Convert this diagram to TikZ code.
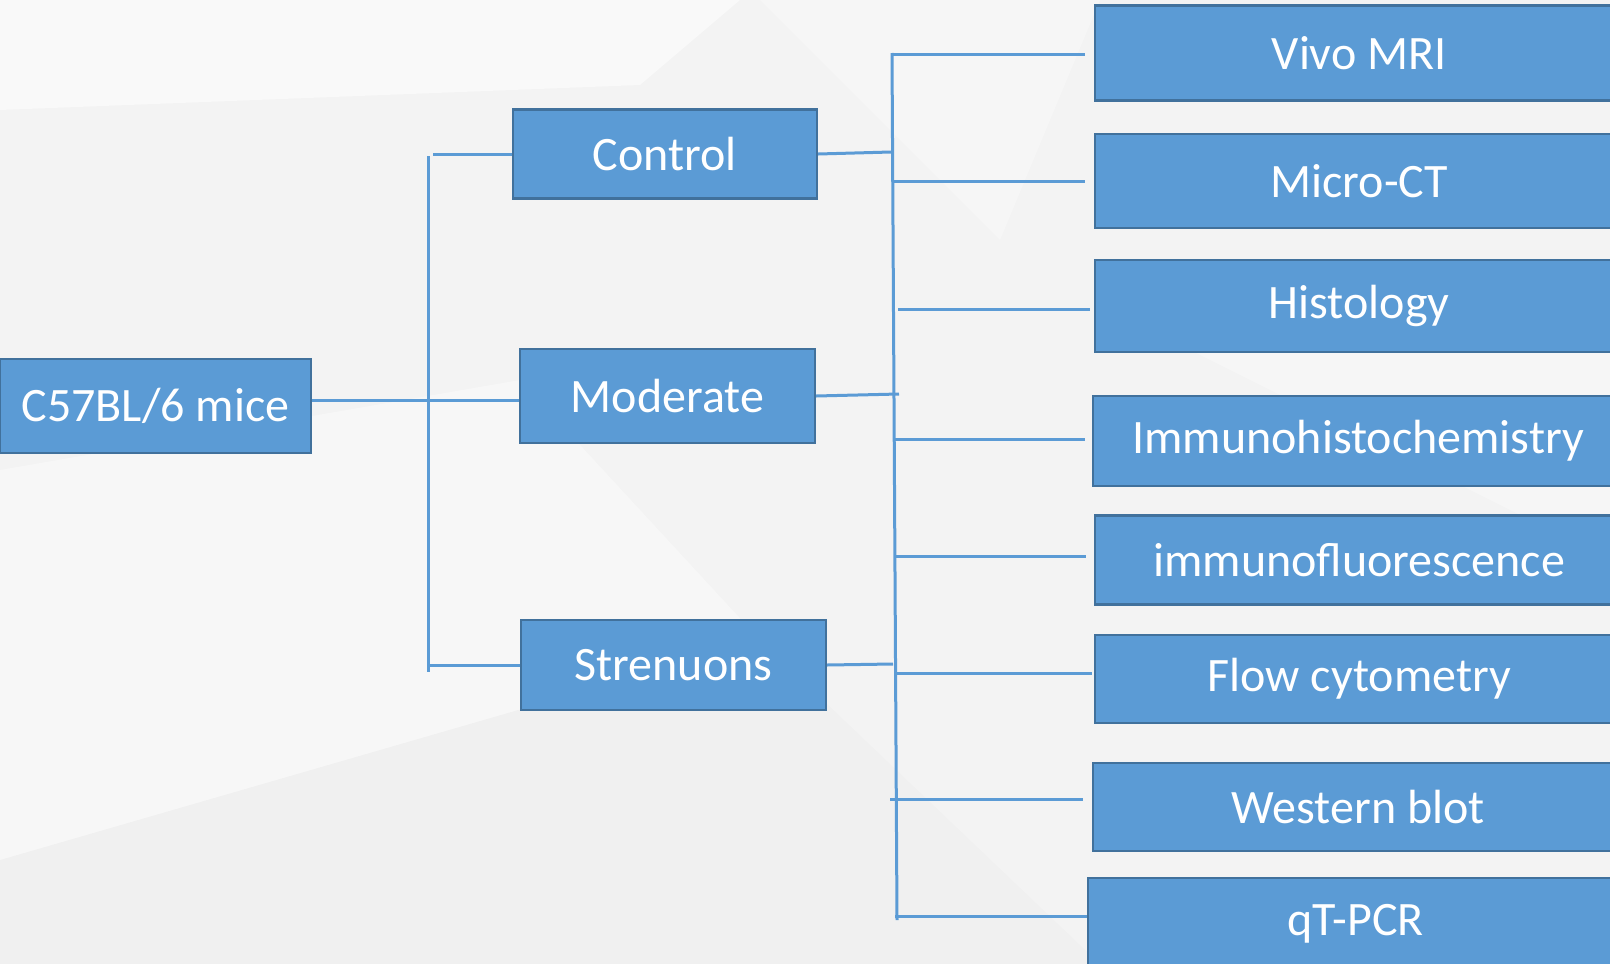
\documentclass[tikz,border=0pt]{standalone}
\usepackage{fontspec}
\setmainfont{Carlito}
\usepackage{xcolor}
\usetikzlibrary{calc}
\definecolor{boxfill}{HTML}{5B9BD5}
\definecolor{boxline}{HTML}{41719C}
\definecolor{bgbase}{HTML}{F3F3F3}

\begin{document}
\begin{tikzpicture}[x=1pt,y=-1pt,line cap=round,
  box/.style={draw=boxline,line width=2.4pt,fill=boxfill,text=white,
    font=\fontsize{48}{50}\selectfont,inner sep=0pt},
  link/.style={draw=boxfill,line width=3pt,line cap=butt}]
% background
\useasboundingbox (0,0) rectangle (1610,964);
\clip (0,0) rectangle (1610,964);
\fill[bgbase] (0,0) rectangle (1610,964);
\fill[white,opacity=0.5] (0,0) -- (740,0) -- (640,85) -- (0,110) -- cycle;
\fill[white,opacity=0.35] (0,470) -- (520,380) -- (760,640) -- (0,860) -- cycle;
\fill[white,opacity=0.3] (760,0) -- (1100,0) -- (1000,240) -- cycle;
\fill[white,opacity=0.3] (1130,320) -- (1610,330) -- (1610,560) -- cycle;
\fill[black,opacity=0.012] (0,860) -- (760,640) -- (1100,964) -- (0,964) -- cycle;
% left column
\node[box,minimum width=311,minimum height=94] (mice) at (155.5,406) {C57BL/6 mice};
% groups
\node[box,minimum width=304,minimum height=89] (ctrl) at (665,154) {Control};
\node[box,minimum width=295,minimum height=94] (mod) at (667.5,396) {Moderate};
\node[box,minimum width=305,minimum height=90] (stren) at (673.5,665) {Strenuons};
% methods
\node[box,minimum width=528,minimum height=95,anchor=west] (mri) at (1094,53) {Vivo MRI};
\node[box,minimum width=528,minimum height=94,anchor=west] (ct) at (1094,181) {Micro-CT};
\node[box,minimum width=528,minimum height=92,anchor=west] (histo) at (1094,306) {Histology};
\node[box,minimum width=530,minimum height=90,anchor=west] (ihc) at (1092,441) {Immunohistochemistry};
\node[box,minimum width=528,minimum height=89,anchor=west] (ifl) at (1094,560) {immunofluorescence};
\node[box,minimum width=528,minimum height=88,anchor=west] (flow) at (1094,679) {Flow cytometry};
\node[box,minimum width=530,minimum height=88,anchor=west] (wb) at (1092,807) {Western blot};
\node[box,minimum width=535,minimum height=92,anchor=west] (pcr) at (1087,924) {qT-PCR};
% bus lines
\coordinate (ltop) at (428,156);
\coordinate (lbot) at (428,672);
\coordinate (rtop) at (892,53);
\coordinate (rbot) at (897,920);
\draw[link] (ltop) -- (lbot);
\draw[link] (rtop) -- (rbot);
% left side links
\draw[link] (mice.east |- 0,400) -- (mod.west |- 0,400);
\draw[link] (ctrl.west) -- (ctrl.west -| 433,0);
\draw[link] (stren.west) -- (stren.west -| lbot);
% group to right bus
\draw[link] (ctrl.east) -- (891,152);
\draw[link] (mod.east) -- (899,394);
\draw[link] (stren.east) -- (893,664);
% right bus to methods
\draw[link,shorten >=9pt] (892,54) -- (mri.west |- 0,54);
\draw[link,shorten >=9pt] (894,181) -- (ct.west |- 0,181);
\draw[link,shorten >=4pt] (898,309) -- (histo.west |- 0,309);
\draw[link,shorten >=7pt] (893,439) -- (ihc.west |- 0,439);
\draw[link,shorten >=8pt] (895,556) -- (ifl.west |- 0,556);
\draw[link,shorten >=2pt] (897,673) -- (flow.west |- 0,673);
\draw[link,shorten >=9pt] (890,799) -- (wb.west |- 0,799);
\draw[link] (895,916) -- (pcr.west |- 0,916);
\end{tikzpicture}
\end{document}
